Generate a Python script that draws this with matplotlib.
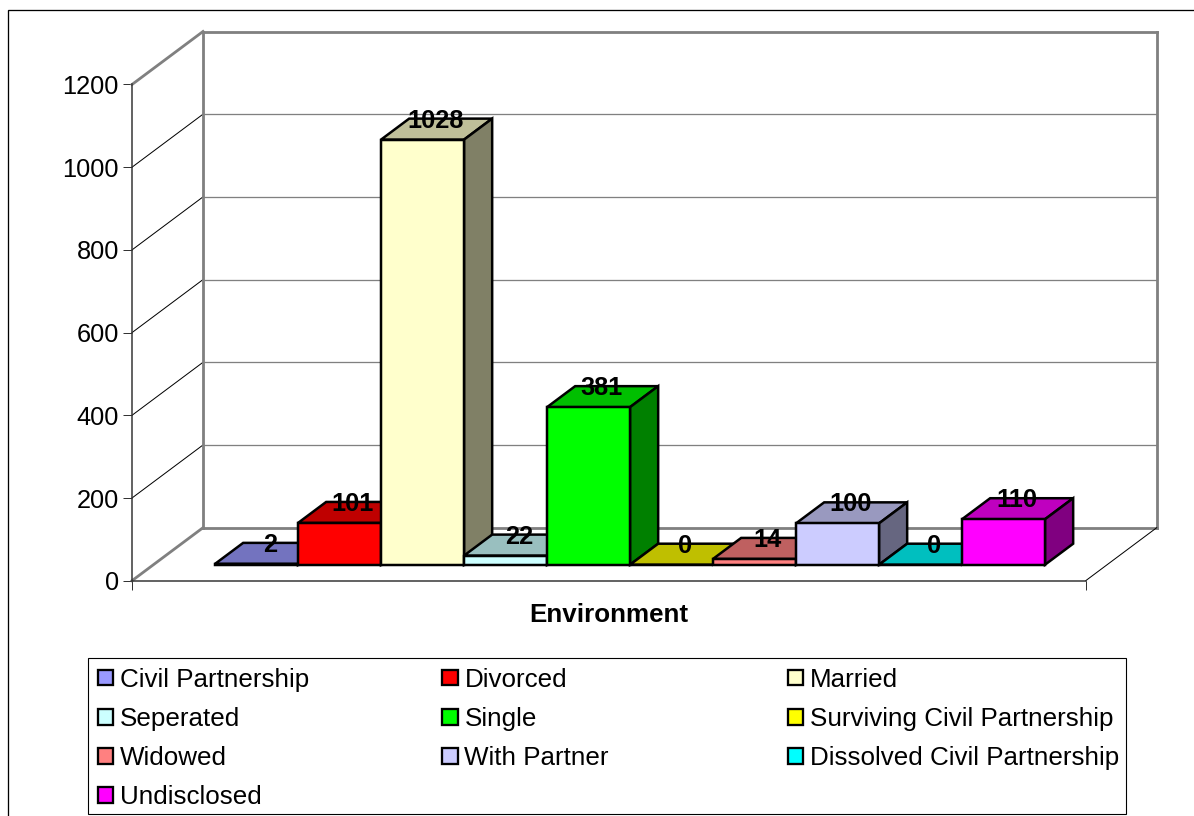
import matplotlib
matplotlib.use("Agg")
import matplotlib.pyplot as plt
from matplotlib.patches import Polygon, Rectangle

categories = ["Civil Partnership", "Divorced", "Married", "Seperated", "Single",
              "Surviving Civil Partnership", "Widowed", "With Partner",
              "Dissolved Civil Partnership", "Undisclosed"]
values = [2, 101, 1028, 22, 381, 0, 14, 100, 0, 110]
colors = ["#9999FF", "#FF0000", "#FFFFCC", "#CCFFFF", "#00FF00",
          "#FFFF00", "#FF8080", "#CCCCFF", "#00FFFF", "#FF00FF"]
y_ticks = [0, 200, 400, 600, 800, 1000, 1200]
x_title = "Environment"

plt.rcParams["font.family"] = ["Liberation Sans", "DejaVu Sans"]
W, H = 1194, 816
FS_TICK = 18.3
FS_LEG = 18.7
FS_TITLE = 18.75
FS_DATA = 18.3
PX = 0.72
GRAY = "#808080"

fig = plt.figure(figsize=(W / 100, H / 100), dpi=100)

# Overlay in pixel coordinates: frame and legend
ov = fig.add_axes([0, 0, 1, 1], zorder=0)
ov.set_xlim(0, W)
ov.set_ylim(H, 0)
ov.axis("off")
ov.plot([8.2, 8.2, W], [H, 9.7, 9.7], color="black", lw=1.3 * PX, solid_joinstyle="miter")

ov.add_patch(Rectangle((88, 658), 1038, 156, fc="white", ec="black", lw=1.1 * PX))
col_x = [97, 441.5, 787]
for k, (name, c) in enumerate(zip(categories, colors)):
    r, cc = k // 3, k % 3
    top = 669 + r * 39.2
    ov.add_patch(Rectangle((col_x[cc] + 0.8, top + 0.8), 15.6, 15.6, fc=c, ec="black", lw=2.3 * PX))
    ov.text(col_x[cc] + 23, top + 17.6, name, fontsize=FS_LEG, color="black", ha="left", va="baseline")

# Main axes: the front plane of the 3-D box
x0, x1, y0, y1 = 132.0, 1085.7, 580.7, 84.5
ax = fig.add_axes([x0 / W, 1 - y0 / H, (x1 - x0) / W, (y0 - y1) / H], zorder=1)
ax.patch.set_visible(False)
BAR_PX = 83.0
xmin = -0.5 - (215 - 21.4 - x0) / BAR_PX
xmax = xmin + (x1 - x0) / BAR_PX
ax.set_xlim(xmin, xmax)
ax.set_ylim(0, y_ticks[-1])
DX = 71.0 / BAR_PX
DY = 53.0 / ((y0 - y1) / y_ticks[-1])
D0, D1 = 16 / 53, 37 / 53


def proj(x, y, d):
    return x + d * DX, y + d * DY


# Walls
for t in y_ticks:
    thick = t in (y_ticks[0], y_ticks[-1])
    a = proj(xmin, t, 0)
    b = proj(xmin, t, 1)
    c = proj(xmax, t, 1)
    ax.plot([a[0], b[0]], [a[1], b[1]], clip_on=False, zorder=2,
            color=GRAY if thick else "black", lw=(2.8 if thick else 1.0) * PX)
    ax.plot([b[0], c[0]], [b[1], c[1]], clip_on=False, zorder=2,
            color=GRAY, lw=(2.8 if thick else 1.3) * PX)
for xe in (xmin, xmax):
    a = proj(xe, 0, 1)
    b = proj(xe, y_ticks[-1], 1)
    ax.plot([a[0], b[0]], [a[1], b[1]], clip_on=False, zorder=2, color=GRAY, lw=2.8 * PX)
a, b = proj(xmax, 0, 0), proj(xmax, 0, 1)
ax.plot([a[0], b[0]], [a[1], b[1]], clip_on=False, zorder=2, color="black", lw=1.0 * PX)


def shade(hexc, f):
    rgb = matplotlib.colors.to_rgb(hexc)
    return tuple(v * f for v in rgb)


# Bars, painted left to right
for i, (v, c) in enumerate(zip(values, colors)):
    l, r = i - 0.5, i + 0.5
    faces = [
        ([proj(l, v, D0), proj(r, v, D0), proj(r, v, D1), proj(l, v, D1)], shade(c, 0.75)),
        ([proj(r, 0, D0), proj(r, 0, D1), proj(r, v, D1), proj(r, v, D0)], shade(c, 0.5)),
        ([proj(l, 0, D0), proj(r, 0, D0), proj(r, v, D0), proj(l, v, D0)], c),
    ]
    for pts, fc in faces:
        ax.add_patch(Polygon(pts, closed=True, fc=fc, ec="black", lw=2.5 * PX,
                             joinstyle="miter", clip_on=False, zorder=3 + i * 0.1))

# Data labels
for i, v in enumerate(values):
    px = proj(i, v, (D0 + D1) / 2)[0]
    py = proj(i, v, D1)[1]
    ax.annotate(str(v), (px, py), xytext=(-0.5, -9.0 * PX), textcoords="offset points",
                ha="center", va="baseline", fontsize=FS_DATA, fontweight="bold",
                color="black", zorder=10, annotation_clip=False)

# Axes furniture
for s in ("top", "right"):
    ax.spines[s].set_visible(False)
for s in ("left", "bottom"):
    ax.spines[s].set_color("#333333")
    ax.spines[s].set_linewidth(1.5 * PX)
ax.set_yticks(y_ticks)
ax.set_xticks([xmin, xmax])
ax.set_xticklabels([])
ax.tick_params(axis="y", length=9 * PX, width=1.0 * PX, color="#333333",
               labelsize=FS_TICK, pad=4.0 * PX, labelcolor="black")
ax.tick_params(axis="x", length=9 * PX, width=1.0 * PX, color="#333333")
ax.set_xlabel(x_title, fontsize=FS_TITLE, fontweight="bold", color="black", labelpad=6.2)

fig.savefig("out.png", dpi=100, facecolor="white")
